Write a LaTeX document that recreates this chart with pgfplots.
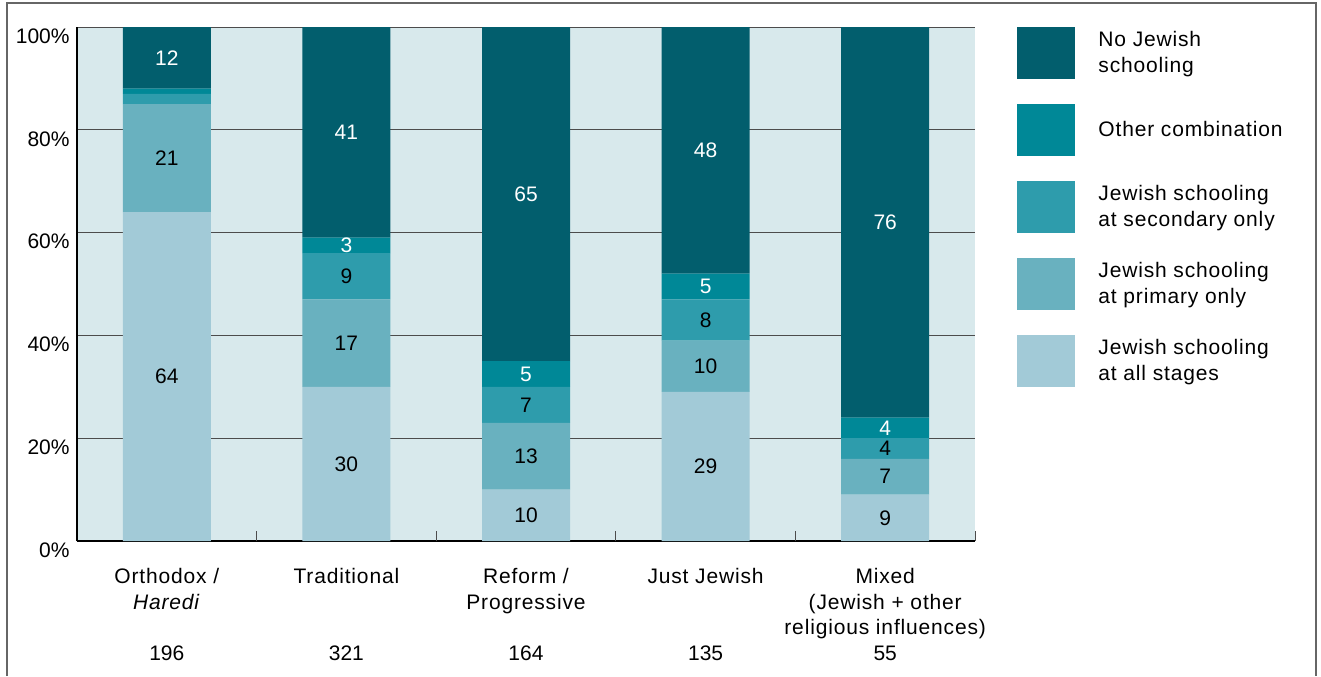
\documentclass[border=0pt]{standalone}
\usepackage{fontspec}
\setmainfont{Liberation Sans}
\newfontfamily\wide[LetterSpace=4]{Liberation Sans}
\usepackage{pgfplots}
\pgfplotsset{compat=1.18}
\definecolor{cnone}{HTML}{025E6D}
\definecolor{cother}{HTML}{008897}
\definecolor{csec}{HTML}{2E9CAC}
\definecolor{cprim}{HTML}{69B1BF}
\definecolor{call}{HTML}{A2CAD7}
\definecolor{cbg}{HTML}{D8E9EC}
\newcommand\lf{\fontsize{10.5}{12.8}\selectfont}
\begin{document}
\lf
\begin{tikzpicture}
\useasboundingbox (0,0) rectangle (660.5pt,338pt);
\draw[line width=0.75pt, color=black!60] (3.5pt,0pt) -- (3.5pt,336.5pt) -- (658pt,336.5pt) -- (658pt,0pt);
\begin{axis}[
  at={(38.5pt,67.5pt)}, anchor=south west,
  scale only axis, width=449pt, height=257pt,
  xmin=-0.5, xmax=4.5, ymin=0, ymax=100,
  ybar stacked, bar width=0.49,
  axis background/.style={fill=cbg},
  separate axis lines,
  axis x line*=bottom, axis y line*=left,
  axis line style={-, black, line width=0.75pt},
  ymajorgrids, grid style={line width=0.5pt, color=black!70},
  major tick length=0pt,
  xtick={0,1,2,3,4},
  xticklabels={{\wide Orthodox /\\\wide\textit{Haredi}\\\mbox{}\\196},
               {\wide Traditional\\\mbox{}\\\mbox{}\\321},
               {\wide Reform /\\\wide Progressive\\\mbox{}\\164},
               {\wide Just Jewish\\\mbox{}\\\mbox{}\\135},
               {\wide Mixed\\\wide(Jewish + other\\\wide religious influences)\\55}},
  xticklabel style={anchor=north, inner sep=0pt, yshift=-13.5pt, align=center, font=\lf},
  extra x ticks={0.5,1.5,2.5,3.5,4.5},
  extra x tick labels={},
  extra x tick style={major tick length=5pt, tick style={black!70, line width=0.5pt}, grid=none},
  ytick={0,20,40,60,80,100},
  yticklabels={0\%,20\%,40\%,60\%,80\%,100\%},
  yticklabel style={anchor=east, inner sep=0pt, xshift=-3.5pt, yshift=-4.5pt, font=\lf},
  point meta=explicit symbolic,
  nodes near coords={\pgfplotspointmeta},
  every node near coord/.append style={anchor=center, font=\lf},
  reverse legend,
  legend cell align=left,
  legend image code/.code={\fill[#1] (0pt,-13pt) rectangle (29pt,13pt);},
  legend style={at={(1.0468,1)}, anchor=north west, draw=none, fill=none, inner sep=0pt,
    row sep=12.5pt, font=\lf\wide, nodes={align=left, inner sep=0pt},
    /tikz/every odd column/.append style={column sep=11.5pt}},
]
\addplot[fill=call, draw=none] coordinates {(0,64) [64] (1,30) [30] (2,10) [10] (3,29) [29] (4,9) [9]};
\addlegendentry{Jewish schooling\\at all stages}
\addplot[fill=cprim, draw=none] coordinates {(0,21) [21] (1,17) [17] (2,13) [13] (3,10) [10] (4,7) [7]};
\addlegendentry{Jewish schooling\\at primary only}
\addplot[fill=csec, draw=none] coordinates {(0,2) [{}] (1,9) [9] (2,7) [7] (3,8) [8] (4,4) [4]};
\addlegendentry{Jewish schooling\\at secondary only}
\addplot[fill=cother, draw=none, every node near coord/.append style={color=white}] coordinates {(0,1) [{}] (1,3) [3] (2,5) [5] (3,5) [5] (4,4) [4]};
\addlegendentry{Other combination}
\addplot[fill=cnone, draw=none, every node near coord/.append style={color=white}] coordinates {(0,12) [12] (1,41) [41] (2,65) [65] (3,48) [48] (4,76) [76]};
\addlegendentry{No Jewish\\schooling}
\end{axis}
\end{tikzpicture}
\end{document}
